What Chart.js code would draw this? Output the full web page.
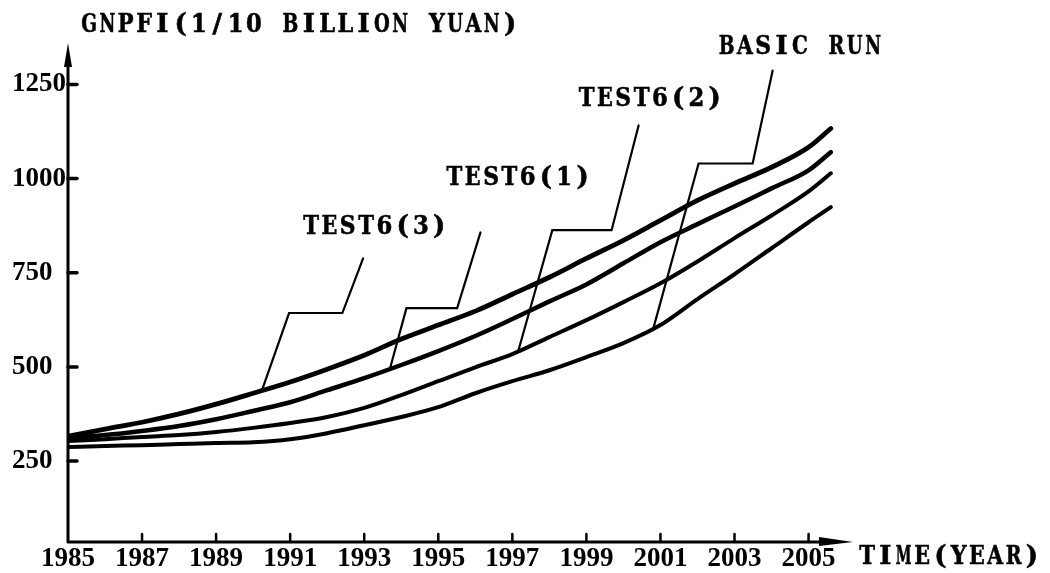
<!DOCTYPE html>
<html>
<head>
<meta charset="utf-8">
<script src="https://cdn.jsdelivr.net/npm/chart.js@4.4.0/dist/chart.umd.min.js"></script>
<style>
  html, body { margin: 0; padding: 0; background: #fff; }
  #wrap { width: 1050px; height: 573px; }
</style>
</head>
<body>
<div id="wrap"><canvas id="gnpfi"></canvas></div>
<script>
// years simulated (last point is where the curves stop, a bit past 2005)
const years = [1985, 1986, 1987, 1988, 1989, 1990, 1991, 1992, 1993, 1994, 1995,
  1996, 1997, 1998, 1999, 2000, 2001, 2002, 2003, 2004, 2005, 2005.6];

// GNPFI, 1/10 billion yuan
const test6_3 = [316, 335, 353, 375, 401, 430, 460, 494, 531, 574, 611,
  648, 693, 738, 788, 836, 889, 942, 987, 1030, 1083, 1133];
const test6_1 = [311, 319, 330, 343, 361, 383, 406, 438, 470, 505, 542,
  582, 627, 674, 719, 775, 831, 879, 926, 974, 1022, 1070];
const test6_2 = [303, 308, 314, 319, 327, 338, 351, 367, 391, 425, 462,
  499, 534, 579, 624, 672, 722, 780, 842, 902, 966, 1014];
const basicRun = [287, 290, 292, 295, 298, 300, 308, 324, 345, 367, 393,
  430, 462, 491, 526, 563, 611, 680, 746, 815, 884, 924];

const xTicks = [1985, 1987, 1989, 1991, 1993, 1995, 1997, 1999, 2001, 2003, 2005];
const yTicks = [250, 500, 750, 1000, 1250];

// callout leaders, in (year, value); first point is next to the label
const callouts = [
  { text: 'TEST6(3)', at: [1991.32, 871], path: [[1992.97, 788], [1992.41, 643], [1990.97, 643], [1990.24, 438]] },
  { text: 'TEST6(1)', at: [1995.19, 1001], path: [[1996.14, 857], [1995.51, 656], [1994.14, 656], [1993.70, 497]] },
  { text: 'TEST6(2)', at: [1998.76, 1210], path: [[2000.41, 1141], [1999.68, 863], [1998.08, 863], [1997.16, 542]] },
  { text: 'BASIC RUN', at: [2002.54, 1348], path: [[2004.03, 1287], [2003.49, 1040], [2002.03, 1040], [2000.81, 603]] }
];

const typeFont = 'bold 26px "DejaVu Serif", "Liberation Serif", serif';
const typePitch = 18.3;
const tickFont = { family: '"Liberation Serif", "Times New Roman", serif', size: 27, weight: 'bold' };

function series(vals, w) {
  return {
    data: years.map((yr, i) => ({ x: yr, y: vals[i] })),
    borderColor: '#000',
    borderWidth: w,
    pointRadius: 0,
    fill: false,
    cubicInterpolationMode: 'monotone',
    borderCapStyle: 'round'
  };
}

// typewriter look: every character squeezed into a fixed cell
function typeText(ctx, str, x, y) {
  ctx.save();
  ctx.font = typeFont;
  ctx.textAlign = 'center';
  ctx.textBaseline = 'middle';
  ctx.lineWidth = 0.6;
  [...str].forEach((ch, i) => {
    if (ch === ' ') return;
    const w = ctx.measureText(ch).width;
    const sx = Math.min(1, (typePitch - 2.5) / w);
    ctx.save();
    ctx.translate(x + typePitch * (i + 0.5), y);
    ctx.scale(sx, 1);
    ctx.fillText(ch, 0, 0);
    ctx.strokeText(ch, 0, 0);
    ctx.restore();
  });
  ctx.restore();
}

const decor = {
  id: 'decor',
  afterDraw(chart) {
    const { ctx, chartArea: a, scales: { x, y } } = chart;
    ctx.save();
    ctx.strokeStyle = '#000';
    ctx.fillStyle = '#000';
    ctx.lineCap = 'round';

    // axes with arrows
    ctx.lineWidth = 3;
    ctx.beginPath();
    ctx.moveTo(a.left, a.bottom);
    ctx.lineTo(a.left, a.top + 14);
    ctx.moveTo(a.left, a.bottom);
    ctx.lineTo(a.right - 20, a.bottom);
    ctx.stroke();
    ctx.beginPath();
    ctx.moveTo(a.left, a.top);
    ctx.lineTo(a.left - 4, a.top + 24);
    ctx.lineTo(a.left + 4, a.top + 24);
    ctx.closePath();
    ctx.fill();
    ctx.beginPath();
    ctx.moveTo(a.right, a.bottom);
    ctx.lineTo(a.right - 34, a.bottom - 5);
    ctx.lineTo(a.right - 34, a.bottom + 4);
    ctx.closePath();
    ctx.fill();

    // tick stubs inside the axes
    ctx.lineWidth = 3.5;
    y.ticks.forEach(t => {
      const py = y.getPixelForValue(t.value);
      ctx.beginPath();
      ctx.moveTo(a.left, py);
      ctx.lineTo(a.left + 9, py);
      ctx.stroke();
    });
    ctx.lineWidth = 2.5;
    x.ticks.forEach(t => {
      if (t.value <= x.min) return;
      const px = x.getPixelForValue(t.value);
      ctx.beginPath();
      ctx.moveTo(px, a.bottom);
      ctx.lineTo(px, a.bottom - 8);
      ctx.stroke();
    });

    // callouts
    callouts.forEach(c => {
      ctx.lineWidth = 2.2;
      ctx.lineJoin = 'miter';
      ctx.beginPath();
      c.path.forEach(([yr, v], i) => {
        const px = x.getPixelForValue(yr), py = y.getPixelForValue(v);
        if (i === 0) ctx.moveTo(px, py); else ctx.lineTo(px, py);
      });
      ctx.stroke();
      typeText(ctx, c.text, x.getPixelForValue(c.at[0]), y.getPixelForValue(c.at[1]));
    });

    // axis titles
    typeText(ctx, 'GNPFI(1/10 BILLION YUAN)', a.left + 12, 25);
    typeText(ctx, 'TIME(YEAR)', a.right + 5, a.bottom + 15);
    ctx.restore();
  }
};

new Chart(document.getElementById('gnpfi'), {
  type: 'line',
  data: {
    datasets: [
      series(test6_3, 4.8),
      series(test6_1, 4.5),
      series(test6_2, 4),
      series(basicRun, 4)
    ]
  },
  options: {
    responsive: true,
    maintainAspectRatio: false,
    animation: false,
    layout: { padding: { left: 12, top: 43, right: 197, bottom: 0 } },
    plugins: { legend: { display: false }, tooltip: { enabled: false } },
    scales: {
      x: {
        type: 'linear',
        min: 1985,
        max: 2006.2,
        grid: { display: false, drawTicks: false },
        border: { display: false },
        afterBuildTicks: s => { s.ticks = xTicks.map(v => ({ value: v })); },
        afterFit: s => { s.height = 31; },
        ticks: {
          color: '#000',
          font: tickFont,
          padding: 1,
          maxRotation: 0,
          autoSkip: false,
          callback: v => String(v)
        }
      },
      y: {
        min: 35,
        max: 1360,
        grid: { display: false, drawTicks: false },
        border: { display: false },
        afterBuildTicks: s => { s.ticks = yTicks.map(v => ({ value: v })); },
        afterFit: s => { s.width = 56; },
        ticks: {
          color: '#000',
          font: tickFont,
          crossAlign: 'far',
          padding: 0,
          callback: v => String(v)
        }
      }
    }
  },
  plugins: [decor]
});
</script>
</body>
</html>
